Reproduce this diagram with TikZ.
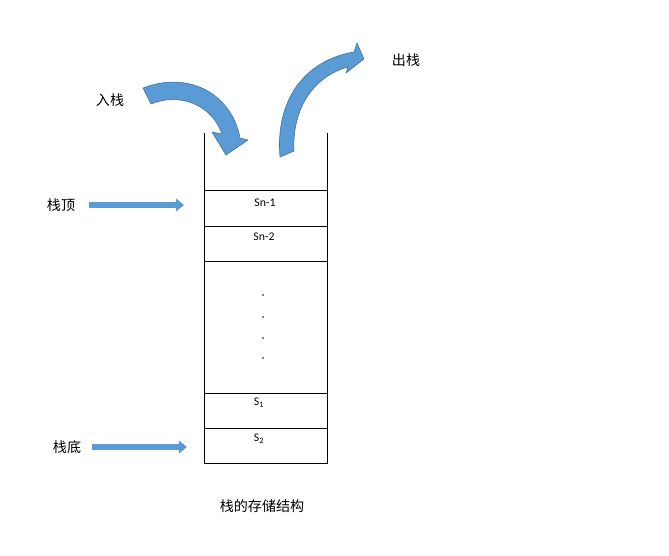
\documentclass[tikz,border=0pt]{standalone}
\usepackage{fontspec}
\setmainfont{Carlito}
\newfontfamily\cjk{Noto Sans CJK SC}
\usetikzlibrary{arrows.meta}
\definecolor{StackBlue}{RGB}{91,155,213}
\definecolor{StackEdge}{RGB}{65,113,156}
\tikzset{
  cn/.style={font=\cjk\fontsize{12}{14}\selectfont, inner sep=0pt},
  cell/.style={font=\fontsize{10}{12}\selectfont, inner sep=0pt},
  wall/.style={line width=0.8pt},
  flatarrow/.style={StackBlue, line width=5pt, -{Triangle[length=7pt,width=11pt]}},
  bentarrow/.style={fill=StackBlue, draw=StackEdge, line width=0.5pt, line join=round}
}

\begin{document}
\begin{tikzpicture}[x=0.03cm,y=-0.03cm]
  \useasboundingbox (0,0) rectangle (669,555);
  \draw[wall] (204,133) -- (204,463) -- (327,463) -- (327,133);
  \foreach \y in {190,226,261,393,428}{
    \draw[wall] (204,\y) -- (327,\y);
  }
  \node[cell] (sn1) at (265,203) {Sn-1};
  \node[cell] (sn2) at (264,237) {Sn-2};
  \node[cell] (s1) at (259,403) {S\textsubscript{1}};
  \node[cell] (s2) at (259,439) {S\textsubscript{2}};
  \foreach \y in {295,317,338,358}{
    \fill[black!65] (263,\y) circle (0.9pt);
  }
  \filldraw[bentarrow] (143,88) .. controls (190,70) and (232,95) .. (240,138)
    -- (248,140) -- (226,155) -- (212,132) -- (222,134)
    .. controls (212,105) and (180,92) .. (151,104) -- cycle;
  \filldraw[bentarrow] (280,157) .. controls (275,100) and (305,60) .. (354,52)
    -- (357,43) -- (364,59) -- (346,73) -- (348,67)
    .. controls (312,77) and (292,110) .. (294,151) -- cycle;
  \node[cn] (push) at (110,100) {入栈};
  \node[cn] (pop) at (406,60) {出栈};
  \node[cn] (topLbl) at (61,205) {栈顶};
  \node[cn] (botLbl) at (67,447) {栈底};
  \node[cn] (caption) at (262,506) {栈的存储结构};
  \coordinate (topTip) at (184,205);
  \coordinate (botTip) at (187,447);
  \draw[flatarrow, shorten <=12pt] (topLbl.east) -- (topTip);
  \draw[flatarrow, shorten <=9pt] (botLbl.east) -- (botTip);
\end{tikzpicture}
\end{document}
